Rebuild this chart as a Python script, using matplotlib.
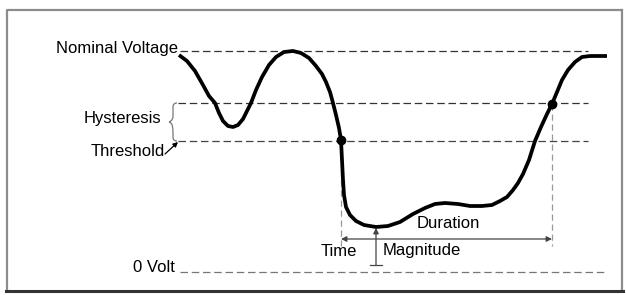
import matplotlib
matplotlib.use('Agg')
import matplotlib.pyplot as plt
from matplotlib.path import Path
from matplotlib.patches import PathPatch

plt.rcParams['font.family'] = ['Liberation Sans', 'DejaVu Sans']

# curve (pixel units, y grows downwards)
curve_x = [179, 187, 195, 203, 209, 215, 219, 223, 228, 233, 238, 243, 247, 251, 256, 262, 269, 276, 284, 293,
           301, 309, 316, 322, 326, 330, 333, 336, 339, 341, 342, 343, 344, 346, 350, 356, 364, 376, 388, 400,
           413, 425, 435, 445, 458, 470, 482, 492, 500, 507, 513, 518, 523, 529, 535, 541, 547, 552, 557, 562,
           568, 575, 582, 590, 607]
curve_y = [55, 61, 71, 85, 96, 103, 113, 121, 126, 127, 125, 119, 111, 103, 90, 77, 65, 57, 52, 51,
           53, 58, 66, 74, 82, 92, 103, 115, 128, 140, 160, 180, 195, 207, 215, 221, 225, 227, 226, 222,
           214, 208, 204, 203, 204, 206, 206, 205, 201, 197, 190, 183, 174, 160, 141, 127, 114, 104, 92, 80,
           70, 62, 57, 56, 56]

# levels
levels = {'nominal': 51, 'upper': 103, 'threshold': 141, 'zero': 272}
level_labels = ['Nominal Voltage', 'Hysteresis', 'Threshold', '0 Volt']

# crossing points (start / end of the event)
t_start = (341, 140)
t_end = (552, 104)
dip_min = (376, 227)


def draw_frame(ax):
    ax.plot([6.5, 6.5, 622], [291, 9.5, 9.5], color='#8c8c8c', lw=1.6, solid_capstyle='butt')
    ax.plot([622, 622], [9.5, 291], color='#8c8c8c', lw=1.6)
    ax.plot([5.5, 623], [291, 291], color='#333333', lw=2.2)


def draw_brace(ax, x, y0, y1):
    ym = (y0 + y1) / 2.0
    verts = [(x + 7, y0), (x + 3, y0), (x + 3, y0 + 4), (x + 3, ym - 6),
             (x + 3, ym - 1), (x - 1, ym), (x - 1, ym),
             (x - 1, ym), (x + 3, ym + 1), (x + 3, ym + 6),
             (x + 3, y1 - 4), (x + 3, y1), (x + 7, y1)]
    codes = [Path.MOVETO, Path.CURVE3, Path.CURVE3, Path.LINETO,
             Path.CURVE4, Path.CURVE4, Path.CURVE4,
             Path.MOVETO, Path.CURVE4, Path.CURVE4, Path.CURVE4,
             Path.CURVE3, Path.CURVE3]
    ax.add_patch(PathPatch(Path(verts, codes), fill=False, edgecolor='#777777', lw=0.9))


def main():
    fig = plt.figure(figsize=(6.26, 2.95), dpi=100)
    ax = fig.add_axes([0, 0, 1, 1])
    ax.set_xlim(0, 626)
    ax.set_ylim(295, 0)
    ax.axis('off')

    draw_frame(ax)

    dash = (0, (6, 3))
    ax.plot([180, 588], [levels['nominal']] * 2, color='#333333', lw=0.9, linestyle=dash)
    ax.plot([178, 588], [levels['upper']] * 2, color='#333333', lw=0.9, linestyle=dash)
    ax.plot([178, 588], [levels['threshold']] * 2, color='#444444', lw=0.9, linestyle=dash)
    ax.plot([180, 607], [levels['zero']] * 2, color='#777777', lw=0.9, linestyle=dash)

    # vertical markers
    ax.plot([t_start[0]] * 2, [t_start[1], 246], color='#999999', lw=0.9, linestyle=(0, (5, 3)))
    ax.plot([t_end[0]] * 2, [t_end[1], 246], color='#999999', lw=0.9, linestyle=(0, (5, 3)))

    ax.plot(curve_x, curve_y, color='black', lw=2.7, solid_joinstyle='round', solid_capstyle='butt')
    ax.plot([t_start[0], t_end[0]], [t_start[1], t_end[1]], 'o', color='black', ms=6)

    # duration arrow
    ax.annotate('', xy=(t_start[0], 239), xytext=(t_end[0], 239),
                arrowprops=dict(arrowstyle='<|-|>', color='#444444', lw=0.9,
                                shrinkA=0, shrinkB=0, mutation_scale=8))
    # magnitude arrow
    ax.annotate('', xy=(dip_min[0], dip_min[1] + 1), xytext=(dip_min[0], 265),
                arrowprops=dict(arrowstyle='-|>', color='#444444', lw=0.9,
                                shrinkA=0, shrinkB=0, mutation_scale=8))
    ax.plot([dip_min[0] - 6, dip_min[0] + 6], [265, 265], color='#444444', lw=0.9)

    draw_brace(ax, 170, levels['upper'], levels['threshold'])
    ax.annotate('', xy=(178, 142), xytext=(165, 154),
                arrowprops=dict(arrowstyle='-|>', color='black', lw=0.9,
                                shrinkA=0, shrinkB=0, mutation_scale=7))

    fs = 12
    ax.text(178, 48, level_labels[0], ha='right', va='center', fontsize=fs)
    ax.text(161, 118, level_labels[1], ha='right', va='center', fontsize=fs)
    ax.text(165, 152, level_labels[2], ha='right', va='center', fontsize=fs)
    ax.text(175, 267, level_labels[3], ha='right', va='center', fontsize=fs)
    ax.text(339, 252, 'Time', ha='center', va='center', fontsize=fs)
    ax.text(448, 223, 'Duration', ha='center', va='center', fontsize=fs)
    ax.text(383, 250, 'Magnitude', ha='left', va='center', fontsize=fs)

    fig.savefig('out.png', dpi=100)


if __name__ == '__main__':
    main()
